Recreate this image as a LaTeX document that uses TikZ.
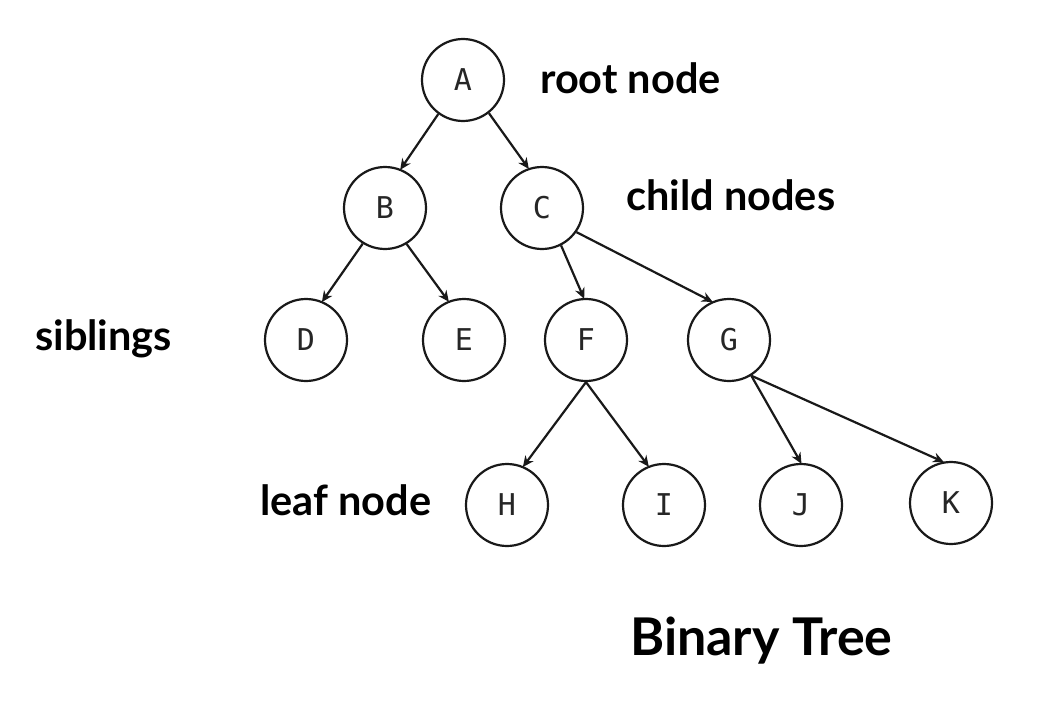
\documentclass[tikz,border=0pt]{standalone}
\usepackage{fontspec}
\setmainfont{Lato}
\newfontfamily\monofnt{DejaVu Sans Mono}
\usetikzlibrary{arrows.meta}
\tikzset{
  tnode/.style={circle, draw=black!90, line width=2.2pt, minimum size=82pt, inner sep=0pt,
    font=\monofnt\fontsize{30}{32}\selectfont, text=black!85},
  edge/.style={line width=2.2pt, draw=black!90, -{Stealth[length=11pt,width=10pt]}, shorten >=-1pt},
  lbl/.style={anchor=base west, inner sep=0pt, font=\bfseries\fontsize{41.5}{44}\selectfont}
}
\begin{document}
\begin{tikzpicture}[x=1pt,y=-1pt]
\path[use as bounding box, fill=white] (0,0) rectangle (1046,701);
\node[tnode] (A) at (463,80) {A};
\node[tnode] (B) at (385,208) {B};
\node[tnode] (C) at (542,208) {C};
\node[tnode] (D) at (306,340) {D};
\node[tnode] (E) at (464,340) {E};
\node[tnode] (F) at (586,340) {F};
\node[tnode] (G) at (729,340) {G};
\node[tnode] (H) at (507,505) {H};
\node[tnode] (I) at (664,505) {I};
\node[tnode] (J) at (801,505) {J};
\node[tnode] (K) at (951,503) {K};
\draw[edge] (A.234) -- (B.68);
\draw[edge] (A.-52) -- (C.109);
\draw[edge] (B.238) -- (D.67);
\draw[edge] (B.-59) -- (E.112);
\draw[edge] (C.-63) -- (F.93);
\draw[edge] (C.-35) -- (G.114);
\draw[edge] (F.south) -- (H.67);
\draw[edge] (F.south) -- (I.112);
\draw[edge] (G.-58) -- (J.north);
\draw[edge] (G.-58) -- (K.101);
\node[lbl] (root) at (540,93) {root node};
\node[lbl] (child) at (626,210) {child nodes};
\node[lbl] (sib) at (35,350) {siblings};
\node[lbl] (leaf) at (260,515) {leaf node};
\node[lbl, font=\bfseries\fontsize{52}{56}\selectfont] (title) at (630,655) {Binary Tree};
\end{tikzpicture}
\end{document}
